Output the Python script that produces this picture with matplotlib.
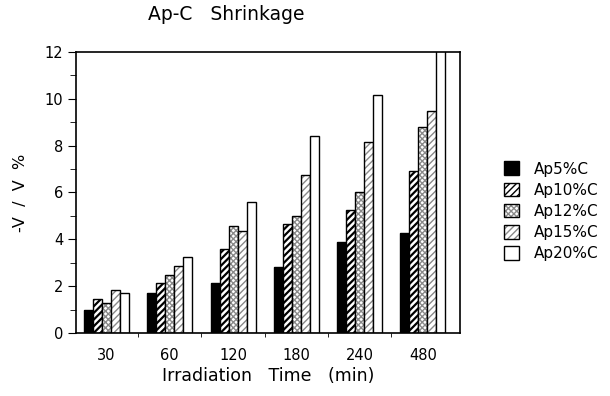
import numpy as np
import matplotlib
matplotlib.use("Agg")
import matplotlib.pyplot as plt
from matplotlib.patches import Patch
from matplotlib.ticker import MultipleLocator, FixedLocator

# values
times = ["30", "60", "120", "180", "240", "480"]
series = ["Ap5%C", "Ap10%C", "Ap12%C", "Ap15%C", "Ap20%C"]
ap5 = [0.97, 1.73, 2.15, 2.82, 3.89, 4.25]
ap10 = [1.47, 2.15, 3.58, 4.67, 5.27, 6.92]
ap12 = [1.28, 2.49, 4.56, 5.00, 6.03, 8.78]
ap15 = [1.82, 2.88, 4.35, 6.74, 8.16, 9.49]
ap20 = [1.73, 3.25, 5.60, 8.42, 10.16, 12.40]

values = [ap5, ap10, ap12, ap15, ap20]
# face, hatch, hatch colour, hatch width
styles = [
    ("black", None, "black", 1.0),
    ("white", "/////", "black", 1.6),
    ("white", "xxxxxx", "#8a8a8a", 1.0),
    ("white", "/////", "#8a8a8a", 1.0),
    ("white", None, "black", 1.0),
]

plt.rcParams["font.family"] = "DejaVu Sans"

fig = plt.figure(figsize=(6.1, 3.96), dpi=100)
ax = fig.add_axes([0.1246, 0.159, 0.629, 0.71])

x = np.arange(len(times))
width = 0.142
for i, (vals, (face, hatch, hcol, hlw)) in enumerate(zip(values, styles)):
    pos = x + (i - 2) * width
    with plt.rc_context({"hatch.linewidth": hlw}):
        ax.bar(pos, vals, width, color=face, hatch=hatch, edgecolor=hcol,
               linewidth=0)
    ax.bar(pos, vals, width, fill=False, edgecolor="black", linewidth=1.0)

ax.set_xlim(-0.48, 5.58)
ax.set_ylim(0, 12)
ax.set_xticks(x)
ax.set_xticklabels(times, fontsize=10.5)
ax.tick_params(axis="x", which="major", length=0, pad=11)
ax.xaxis.set_minor_locator(FixedLocator(x[:-1] + 0.5))
ax.tick_params(axis="x", which="minor", length=3, direction="out")
ax.set_yticks(range(0, 13, 2))
ax.yaxis.set_minor_locator(MultipleLocator(1))
ax.tick_params(axis="y", which="major", length=6, pad=3, direction="out",
               labelsize=10.5)
ax.tick_params(axis="y", which="minor", length=4, direction="out")
for s in ax.spines.values():
    s.set_linewidth(1.2)

fig.text(226 / 610, 1 - 15 / 396, "Ap-C   Shrinkage", fontsize=13.5,
         ha="center", va="center")
ax.set_xlabel("Irradiation   Time   (min)", fontsize=12.5, labelpad=3)
ax.set_ylabel("-V  /  V  %", fontsize=11.5, labelpad=12)

handles = []
for name, (face, hatch, hcol, hlw) in zip(series, styles):
    fill = Patch(facecolor=face, hatch=hatch, edgecolor=hcol, linewidth=0)
    edge = Patch(fill=False, edgecolor="black", linewidth=1.0)
    handles.append((fill, edge))
fig.legend(handles=handles, labels=series, loc="upper left",
           bbox_to_anchor=(0.803, 0.627), frameon=False, fontsize=11,
           handlelength=1.0, handleheight=1.0, labelspacing=0.4,
           handletextpad=1.0)

fig.savefig("out.png", dpi=100)
